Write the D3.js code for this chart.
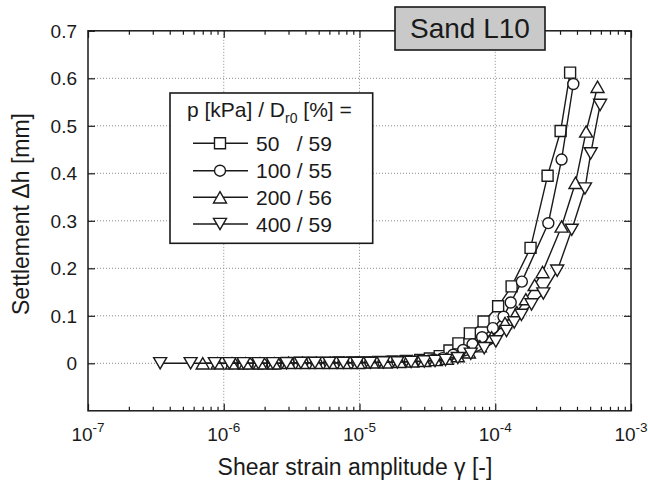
<!DOCTYPE html>
<html><head><meta charset="utf-8">
<script src="https://cdn.jsdelivr.net/npm/d3@7"></script>
<style>
html,body{margin:0;padding:0;background:#fff;}
text{font-family:"Liberation Sans",Arial,Helvetica,sans-serif;fill:#1a1a1a;}
</style></head>
<body><svg id="c" width="648" height="485"></svg>
<script>
// ---- data ----
const seriesNames = ["50   / 59", "100 / 55", "200 / 56", "400 / 59"];
const seriesSymbols = ["square", "circle", "triangleUp", "triangleDown"];

const sqX = [1.4e-6,1.8e-6,2.3e-6,2.9e-6,3.6e-6,4.5e-6,5.6e-6,7.0e-6,8.8e-6,1.1e-5,1.4e-5,1.75e-5,2.2e-5,2.8e-5,3.3e-5,3.9e-5,4.6e-5,5.35e-5,6.5e-5,8.2e-5,1.05e-4,1.32e-4,1.82e-4,2.43e-4,3.03e-4,3.56e-4];
const sqY = [0,0,0,0.001,0.001,0.001,0.001,0.002,0.002,0.002,0.003,0.004,0.005,0.007,0.010,0.015,0.027,0.042,0.063,0.088,0.120,0.162,0.243,0.395,0.489,0.612];

const ciX = [1.15e-6,1.5e-6,1.9e-6,2.4e-6,3.0e-6,3.8e-6,4.8e-6,6.0e-6,7.6e-6,9.6e-6,1.2e-5,1.5e-5,1.9e-5,2.35e-5,2.9e-5,3.5e-5,4.1e-5,4.9e-5,5.8e-5,6.8e-5,8.0e-5,9.6e-5,1.15e-4,1.30e-4,1.57e-4,2.46e-4,3.08e-4,3.76e-4];
const ciY = [0,0,0,0,0.001,0.001,0.001,0.001,0.001,0.002,0.002,0.002,0.003,0.004,0.005,0.007,0.011,0.018,0.028,0.040,0.055,0.074,0.098,0.128,0.172,0.295,0.429,0.588];

const tuX = [7.0e-7,9.0e-7,1.15e-6,1.45e-6,1.85e-6,2.35e-6,3.0e-6,3.8e-6,4.8e-6,6.1e-6,7.7e-6,9.8e-6,1.24e-5,1.56e-5,1.97e-5,2.45e-5,3.0e-5,3.65e-5,4.4e-5,5.3e-5,6.4e-5,7.7e-5,9.4e-5,1.18e-4,1.44e-4,1.68e-4,1.95e-4,2.23e-4,3.08e-4,3.9e-4,4.67e-4,5.67e-4];
const tuY = [0,0,0,0,0,0,0.001,0.001,0.001,0.001,0.001,0.001,0.002,0.002,0.003,0.004,0.005,0.007,0.010,0.015,0.023,0.036,0.055,0.085,0.108,0.135,0.165,0.192,0.288,0.380,0.488,0.582];

const tdX = [3.4e-7,5.7e-7,8.6e-7,1.1e-6,1.4e-6,1.8e-6,2.3e-6,2.9e-6,3.7e-6,4.7e-6,6.0e-6,7.6e-6,9.6e-6,1.2e-5,1.5e-5,1.9e-5,2.4e-5,3.0e-5,3.6e-5,4.3e-5,5.3e-5,6.6e-5,8.3e-5,1.01e-4,1.21e-4,1.38e-4,1.56e-4,1.85e-4,2.26e-4,2.86e-4,3.66e-4,4.58e-4,5.05e-4,5.92e-4];
const tdY = [0,0,0,0,0,0,0,0,0.001,0.001,0.001,0.001,0.001,0.001,0.002,0.002,0.003,0.004,0.005,0.007,0.011,0.020,0.032,0.046,0.068,0.086,0.102,0.124,0.147,0.195,0.281,0.368,0.442,0.544];

const xMajorTicks = [1e-7,1e-6,1e-5,1e-4,1e-3];
const xTickExps = ["-7","-6","-5","-4","-3"];
const yTicks = [0,0.1,0.2,0.3,0.4,0.5,0.6,0.7];
const yTickLabels = ["0","0.1","0.2","0.3","0.4","0.5","0.6","0.7"];
const chartTitle = "Sand L10";
const xTitle = "Shear strain amplitude \u03b3 [-]";
const yTitle = "Settlement \u0394h [mm]";

// ---- layout ----
const L = 88, R = 631, T = 30.8, B = 410.8;
const svg = d3.select("#c");
const x = d3.scaleLog().domain([1e-7,1e-3]).range([L,R]);
const y = d3.scaleLinear().domain([-0.1,0.7]).range([B,T]);
const ink = "#1a1a1a";
const sw = 1.4;

const series = [
  {name: seriesNames[0], sym: seriesSymbols[0], xs: sqX, ys: sqY},
  {name: seriesNames[1], sym: seriesSymbols[1], xs: ciX, ys: ciY},
  {name: seriesNames[2], sym: seriesSymbols[2], xs: tuX, ys: tuY},
  {name: seriesNames[3], sym: seriesSymbols[3], xs: tdX, ys: tdY}
].map(s => ({...s, pts: s.xs.map((v,i)=>[v, s.ys[i]])}));

// minor ticks
const minor = [];
for (let e=-7; e<-3; e++) for (let m=2; m<=9; m++) minor.push(m*Math.pow(10,e));

// grid
const grid = svg.append("g").attr("stroke","#8a8a8a").attr("stroke-width",1).attr("stroke-dasharray","1,2");
grid.selectAll("line.h").data(yTicks.filter(v=>v<0.7)).join("line")
  .attr("x1",L).attr("x2",R).attr("y1",d=>y(d)).attr("y2",d=>y(d));
grid.selectAll("line.v").data(xMajorTicks.slice(1,4)).join("line")
  .attr("y1",T).attr("y2",B).attr("x1",d=>x(d)).attr("x2",d=>x(d));

// axes (inward ticks)
function styleAxis(g){ g.select(".domain").remove(); g.selectAll("line").attr("stroke",ink).attr("stroke-width",1.2); g.selectAll("text").remove(); }
svg.append("g").attr("transform",`translate(0,${B})`).call(d3.axisBottom(x).tickValues(xMajorTicks).tickSize(-7)).call(styleAxis);
svg.append("g").attr("transform",`translate(0,${B})`).call(d3.axisBottom(x).tickValues(minor).tickSize(-4)).call(styleAxis);
svg.append("g").attr("transform",`translate(0,${T})`).call(d3.axisTop(x).tickValues(xMajorTicks).tickSize(-7)).call(styleAxis);
svg.append("g").attr("transform",`translate(0,${T})`).call(d3.axisTop(x).tickValues(minor).tickSize(-4)).call(styleAxis);
svg.append("g").attr("transform",`translate(${L},0)`).call(d3.axisLeft(y).tickValues(yTicks).tickSize(-7)).call(styleAxis);
svg.append("g").attr("transform",`translate(${R},0)`).call(d3.axisRight(y).tickValues(yTicks).tickSize(-7)).call(styleAxis);

// frame
svg.append("rect").attr("x",L).attr("y",T).attr("width",R-L).attr("height",B-T)
  .attr("fill","none").attr("stroke",ink).attr("stroke-width",1.5);

// tick labels
const xl = svg.append("g");
xMajorTicks.forEach((v,i)=>{
  const t = xl.append("text").attr("x",x(v)).attr("y",440.5).attr("text-anchor","middle").attr("font-size",19);
  t.append("tspan").text("10");
  t.append("tspan").attr("dy",-8.5).attr("font-size",13.5).text(xTickExps[i]);
});
svg.append("g").selectAll("text").data(yTicks).join("text")
  .attr("x",77).attr("y",d=>y(d)).attr("dy","0.36em").attr("text-anchor","end")
  .attr("font-size",19).text((d,i)=>yTickLabels[i]);

// axis titles
svg.append("text").attr("x",355).attr("y",475).attr("text-anchor","middle").attr("font-size",23).text(xTitle);
svg.append("text").attr("transform","translate(29,214) rotate(-90)").attr("text-anchor","middle").attr("font-size",23).text(yTitle);

// symbols
function symPath(sym){
  if (sym==="square") return d3.symbol(d3.symbolSquare, 121)();
  if (sym==="circle") return d3.symbol(d3.symbolCircle, 95)();
  const s = 13, h = s*Math.sqrt(3)/2;
  if (sym==="triangleUp") return `M0,${-h/2}L${s/2},${h/2}L${-s/2},${h/2}Z`;
  return `M0,${h/2}L${s/2},${-h/2}L${-s/2},${-h/2}Z`;
}
const line = d3.line().x(d=>x(d[0])).y(d=>y(d[1]));
const plot = svg.append("g");
series.forEach(s=>{
  const g = plot.append("g");
  g.append("path").attr("d",line(s.pts)).attr("fill","none").attr("stroke",ink).attr("stroke-width",sw);
  g.selectAll("path.m").data(s.pts).join("path").attr("class","m")
    .attr("transform",d=>`translate(${x(d[0])},${y(d[1])})`)
    .attr("d",symPath(s.sym)).attr("fill","#fff").attr("stroke",ink).attr("stroke-width",sw);
});

// legend
const lg = svg.append("g");
lg.append("rect").attr("x",170).attr("y",93).attr("width",202.7).attr("height",150.3)
  .attr("fill","#fff").attr("stroke",ink).attr("stroke-width",1.6);
const lt = lg.append("text").attr("x",187).attr("y",117).attr("font-size",21);
lt.append("tspan").text("p [kPa] / D");
lt.append("tspan").attr("font-size",14).attr("dy",6).text("r0");
lt.append("tspan").attr("dy",-6).text(" [%] =");
const rowY = [143.3,170.7,197.3,224];
series.forEach((s,i)=>{
  const ry = rowY[i];
  lg.append("line").attr("x1",193).attr("x2",248).attr("y1",ry).attr("y2",ry).attr("stroke",ink).attr("stroke-width",sw);
  lg.append("path").attr("transform",`translate(220,${ry})`).attr("d",symPath(s.sym))
    .attr("fill","#fff").attr("stroke",ink).attr("stroke-width",sw);
  lg.append("text").attr("x",256).attr("y",ry).attr("dy","0.36em").attr("font-size",21)
    .style("white-space","pre").text(s.name);
});

// title box
const tb = svg.append("g");
tb.append("rect").attr("x",395).attr("y",7).attr("width",150).attr("height",43)
  .attr("fill","#c9c9c9").attr("stroke",ink).attr("stroke-width",1.6);
tb.append("text").attr("x",470).attr("y",38.3).attr("text-anchor","middle").attr("font-size",28).text(chartTitle);
</script></body></html>
